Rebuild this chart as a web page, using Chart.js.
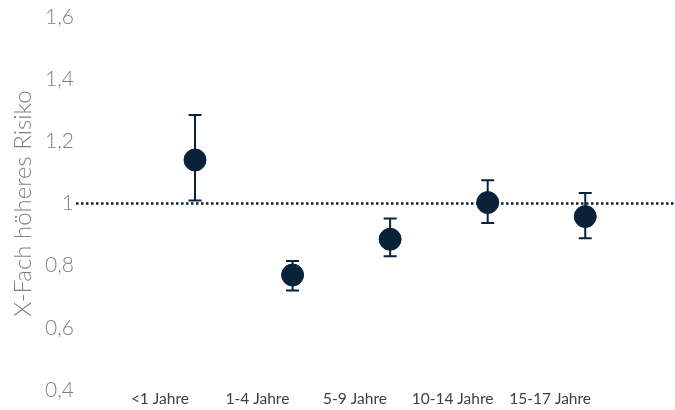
<!DOCTYPE html>
<html lang="de">
<head>
<meta charset="utf-8">
<script src="https://cdn.jsdelivr.net/npm/chart.js@4"></script>
<style>
  html, body { margin: 0; padding: 0; background: #ffffff; }
  #wrap { width: 675px; height: 410px; }
</style>
</head>
<body>
<div id="wrap"><canvas id="chart" width="675" height="410"></canvas></div>
<script>
// Altersgruppen und relatives Risiko mit Konfidenzintervall
const categories = ['<1 Jahre', '1-4 Jahre', '5-9 Jahre', '10-14 Jahre', '15-17 Jahre'];
const riskValues = [1.14, 0.77, 0.885, 1.003, 0.958];
const lowerCI    = [1.01, 0.72, 0.83, 0.937, 0.888];
const upperCI    = [1.285, 0.815, 0.952, 1.075, 1.034];
const yTicks     = [0.4, 0.6, 0.8, 1.0, 1.2, 1.4, 1.6];
const referenceLevel = 1;

const navy = '#0a2239';
const fontFamily = 'Lato, "Open Sans", "DejaVu Sans", sans-serif';

const fmt = v => String(Number(v.toFixed(1))).replace('.', ',');

// Referenzlinie und Fehlerbalken unter den Punkten zeichnen
const errorBarPlugin = {
  id: 'errorBars',
  beforeDatasetsDraw(chart) {
    const { ctx, chartArea, scales } = chart;
    const x = scales.x, y = scales.y;
    ctx.save();
    // gepunktete Linie bei 1
    const yRef = y.getPixelForValue(referenceLevel);
    ctx.strokeStyle = navy;
    ctx.lineWidth = 2.5;
    ctx.setLineDash([2.5, 2.5]);
    ctx.beginPath();
    ctx.moveTo(chartArea.left, yRef);
    ctx.lineTo(chartArea.right, yRef);
    ctx.stroke();
    ctx.setLineDash([]);
    // Whisker mit Querstrichen
    ctx.lineWidth = 2;
    const cap = 6.5;
    riskValues.forEach((v, i) => {
      const px = x.getPixelForValue(i + 1);
      const yLo = y.getPixelForValue(lowerCI[i]);
      const yHi = y.getPixelForValue(upperCI[i]);
      ctx.beginPath();
      ctx.moveTo(px, yLo); ctx.lineTo(px, yHi);
      ctx.moveTo(px - cap, yHi); ctx.lineTo(px + cap, yHi);
      ctx.moveTo(px - cap, yLo); ctx.lineTo(px + cap, yLo);
      ctx.stroke();
    });
    ctx.restore();
  }
};

new Chart(document.getElementById('chart'), {
  type: 'scatter',
  data: {
    datasets: [{
      label: 'Risiko',
      data: riskValues.map((v, i) => ({ x: i + 1, y: v })),
      backgroundColor: navy,
      borderColor: navy,
      borderWidth: 1,
      pointRadius: 11,
      pointHoverRadius: 11
    }]
  },
  options: {
    responsive: false,
    animation: false,
    events: [],
    layout: { autoPadding: false, padding: { top: 17, right: 0, bottom: 0, left: 0 } },
    plugins: { legend: { display: false }, tooltip: { enabled: false } },
    scales: {
      x: {
        type: 'linear',
        min: -0.22,
        max: 5.92,
        grid: { display: false, drawTicks: false },
        border: { display: false },
        afterBuildTicks(scale) {
          scale.ticks = categories.map((c, i) => ({ value: i + 1 - 0.36 }));
        },
        afterFit(scale) {
          scale.height = 20;
          scale.paddingLeft = 0;
          scale.paddingRight = 0;
        },
        ticks: {
          autoSkip: false,
          maxRotation: 0,
          padding: 0,
          color: '#404040',
          font: { family: fontFamily, size: 15.5 },
          callback: (value, index) => categories[index]
        }
      },
      y: {
        min: 0.4,
        max: 1.6,
        grid: { display: false, drawTicks: false },
        border: { display: false },
        afterBuildTicks(scale) {
          scale.ticks = yTicks.map(v => ({ value: v }));
        },
        afterFit(scale) {
          scale.width = 76;
          scale.paddingTop = 0;
          scale.paddingBottom = 0;
        },
        ticks: {
          padding: 2,
          color: '#7f7f7f',
          font: { family: fontFamily, size: 21, weight: '300' },
          callback: v => fmt(v)
        },
        title: {
          display: true,
          text: 'X-Fach höheres Risiko',
          color: '#7f7f7f',
          font: { family: fontFamily, size: 24, weight: '300' },
          padding: { top: 9, bottom: 0 }
        }
      }
    }
  },
  plugins: [errorBarPlugin]
});
</script>
</body>
</html>
